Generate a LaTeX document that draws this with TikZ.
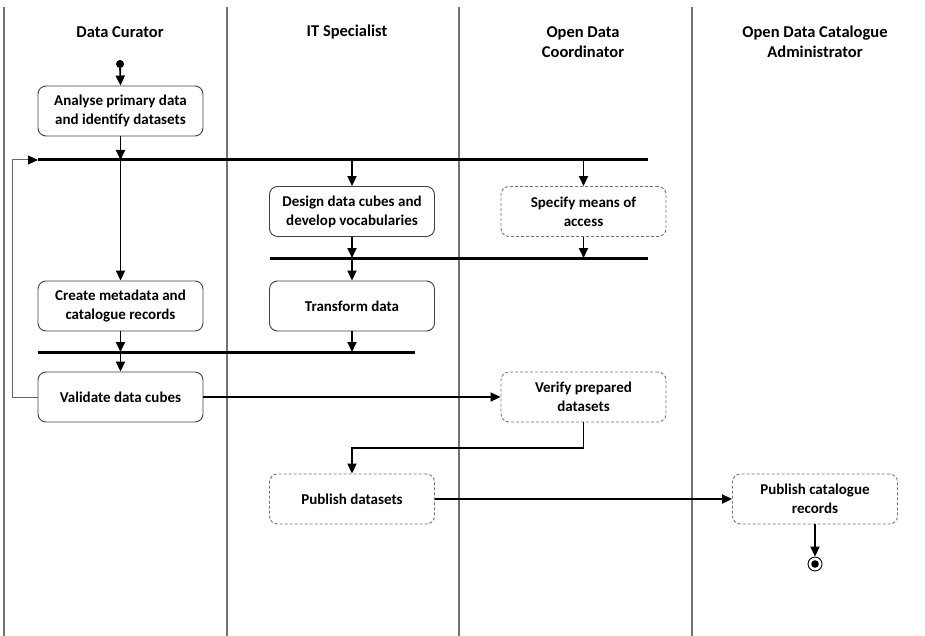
\documentclass[tikz,border=0pt]{standalone}
\usepackage{fontspec}
\setmainfont{Carlito}
\usetikzlibrary{arrows.meta}
\begin{document}
\begin{tikzpicture}[x=1pt,y=-1pt,
  txt/.style={font=\fontsize{15}{19}\selectfont\bfseries, align=center},
  head/.style={font=\fontsize{16.5}{20}\selectfont\bfseries, align=center},
  act/.style={txt, draw=black!75, line width=0.9pt, rounded corners=8pt,
    minimum width=165pt, minimum height=50pt, inner sep=2pt},
  actd/.style={act, draw=black!55, dash pattern=on 3pt off 2pt},
  flow/.style={line width=1.8pt, -{Triangle[length=10pt,width=9pt]}},
  back/.style={line width=1pt, draw=black!60, -{Triangle[length=10pt,width=9pt,fill=black,color=black]}},
  bar/.style={line width=3pt},
  lane/.style={draw=black!55, line width=1.2pt}]
\useasboundingbox (0,0) rectangle (925,636);

% swimlane borders
\draw[lane] (4,7) -- (4,636);
\draw[lane] (227,7) -- (227,636);
\draw[lane] (459,7) -- (459,636);
\draw[lane] (692,7) -- (692,636);

% lane headings
\node[head] (h1) at (120,32) {Data Curator};
\node[head] (h2) at (347,32) {IT Specialist};
\node[head] (h3) at (583,42) {Open Data\\Coordinator};
\node[head] (h4) at (815,42) {Open Data Catalogue\\Administrator};

% fork / join bars
\coordinate (b1w) at (38,160);  \coordinate (b1e) at (648,160);
\coordinate (b2w) at (270,258); \coordinate (b2e) at (648,258);
\coordinate (b3w) at (38,352);  \coordinate (b3e) at (415,352);
\draw[bar] (b1w) -- (b1e);
\draw[bar] (b2w) -- (b2e);
\draw[bar] (b3w) -- (b3e);

% activities
\node[fill=black, circle, inner sep=0pt, minimum size=8pt] (start) at (120,64) {};
\node[act]  (ana) at (120.5,111) {Analyse primary data\\and identify datasets};
\node[act]  (des) at (352,211.5) {Design data cubes and\\develop vocabularies};
\node[actd] (spe) at (583.5,211.5) {Specify means of\\access};
\node[act]  (cre) at (120.5,306) {Create metadata and\\catalogue records};
\node[act]  (tra) at (352,306) {Transform data};
\node[act]  (val) at (120.5,397) {Validate data cubes};
\node[actd] (ver) at (583.5,397) {Verify prepared\\datasets};
\node[actd] (pub) at (352,499) {Publish datasets};
\node[actd] (cat) at (815,499) {Publish catalogue\\records};
\node[draw=black, line width=0.9pt, circle, inner sep=0pt, minimum size=14pt] (end) at (815,564) {};
\fill[black] (end.center) circle (3.8pt);

% control flow
\draw[flow] (start) -- (ana.north);
\draw[flow] (ana.south) -- (ana.south |- b1w);
\draw[flow] (ana.south |- b1w) -- (cre.north);
\draw[flow] (des.north |- b1w) -- (des.north);
\draw[flow] (spe.north |- b1w) -- (spe.north);
\draw[flow] (des.south) -- (des.south |- b2w);
\draw[flow] (spe.south) -- (spe.south |- b2w);
\draw[flow] (tra.north |- b2w) -- (tra.north);
\draw[flow] (cre.south) -- (cre.south |- b3w);
\draw[flow] (tra.south) -- (tra.south |- b3w);
\draw[flow] (val.north |- b3w) -- (val.north);
\coordinate (loop) at (12,160);
\draw[back] (val.west) -| (loop) -- (b1w);
\draw[flow] (val.east) -- (ver.west);
\coordinate (turn) at (583.5,448);
\draw[flow] (ver.south) -- (turn) -| (pub.north);
\draw[flow] (pub.east) -- (cat.west);
\draw[flow] (cat.south) -- (end.north);
\end{tikzpicture}
\end{document}
